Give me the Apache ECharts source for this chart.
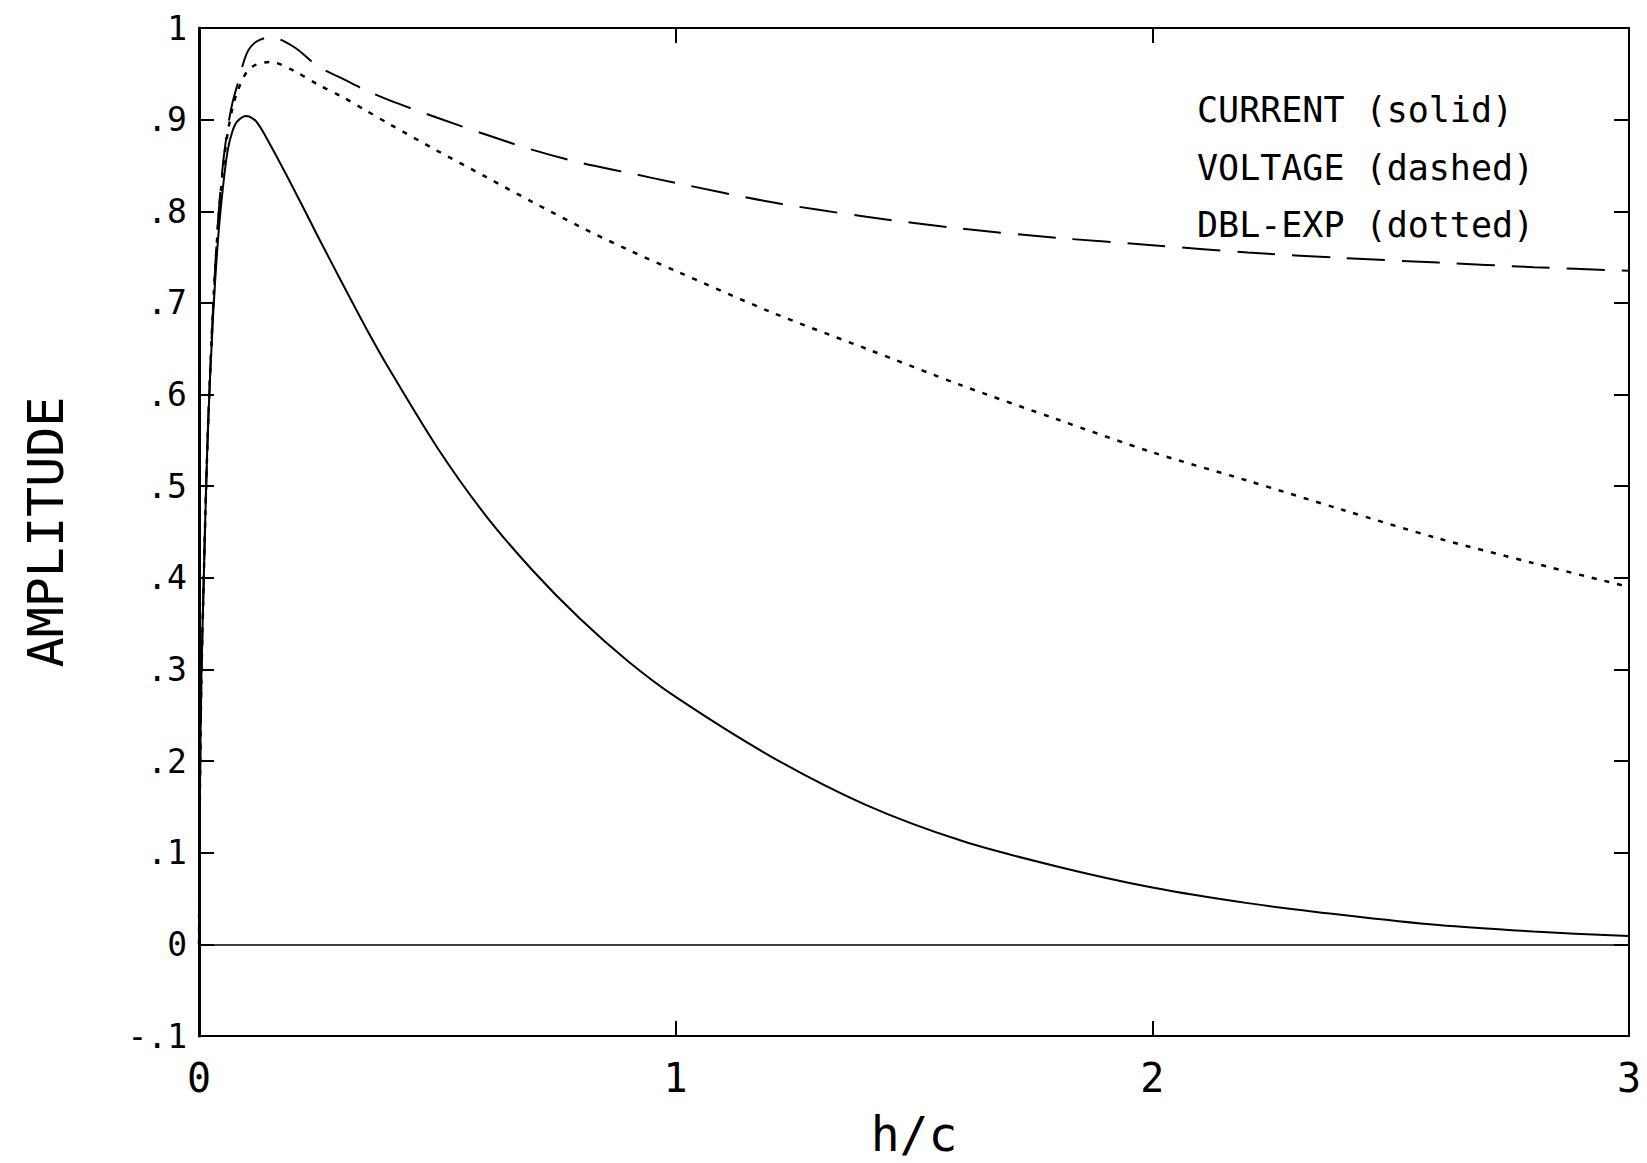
<!DOCTYPE html>
<html>
<head>
<meta charset="utf-8">
<script src="https://cdn.jsdelivr.net/npm/echarts@6/dist/echarts.min.js"></script>
<style>
  html, body { margin: 0; padding: 0; background: #fff; }
  #chart { width: 1647px; height: 1163px; }
</style>
</head>
<body>
<div id="chart"></div>
<script>
// ---- data ----
const xValues = [0, 0.002, 0.005, 0.01, 0.015, 0.02, 0.03, 0.04, 0.05, 0.06, 0.07, 0.08,
  0.1, 0.12, 0.15, 0.2, 0.25, 0.3, 0.35, 0.4, 0.5, 0.6, 0.7, 0.8,
  0.9, 1.0, 1.2, 1.4, 1.6, 1.8, 2.0, 2.2, 2.4, 2.6, 2.8, 3.0];

const currentValues = [0, 0.17, 0.29, 0.40, 0.50, 0.58, 0.69, 0.77, 0.825, 0.866, 0.887, 0.898,
  0.904, 0.898, 0.872, 0.823, 0.772, 0.722, 0.673, 0.627, 0.542, 0.469, 0.408, 0.355,
  0.309, 0.27, 0.205, 0.152, 0.113, 0.085, 0.062, 0.045, 0.032, 0.021, 0.014, 0.009];

const voltageValues = [0, 0.17, 0.29, 0.40, 0.50, 0.58, 0.70, 0.79, 0.85, 0.89, 0.918, 0.937,
  0.972, 0.985, 0.99, 0.979, 0.958, 0.945, 0.932, 0.921, 0.902, 0.884, 0.867, 0.853,
  0.842, 0.831, 0.81, 0.794, 0.781, 0.771, 0.763, 0.755, 0.749, 0.744, 0.739, 0.735];

const dblExpValues = [0, 0.17, 0.29, 0.40, 0.50, 0.58, 0.70, 0.785, 0.845, 0.885, 0.912, 0.93,
  0.952, 0.96, 0.963, 0.953, 0.938, 0.925, 0.91, 0.895, 0.866, 0.838, 0.81, 0.783,
  0.758, 0.735, 0.69, 0.65, 0.61, 0.573, 0.537, 0.506, 0.474, 0.443, 0.416, 0.39];

const seriesNames = ['CURRENT (solid)', 'VOLTAGE (dashed)', 'DBL-EXP (dotted)'];
const yTickLabels = ['-.1', '0', '.1', '.2', '.3', '.4', '.5', '.6', '.7', '.8', '.9', '1'];
const xTickLabels = ['0', '1', '2', '3'];

// ---- chart ----
const FONT = '"DejaVu Sans Mono", "Liberation Mono", monospace';
const pairs = vals => xValues.map((x, i) => [x, vals[i]]);

const chart = echarts.init(document.getElementById('chart'), null, { renderer: 'svg' });

const axisLineStyle = { color: '#000', width: 2 };

chart.setOption({
  animation: false,
  backgroundColor: '#fff',
  grid: { left: 199, right: 18, top: 28, bottom: 125 },
  legend: {
    data: seriesNames,
    orient: 'vertical',
    left: 1187,
    top: 87,
    icon: 'none',
    itemWidth: 0,
    itemHeight: 36,
    itemGap: 22,
    selectedMode: false,
    textStyle: { fontFamily: FONT, fontSize: 35, color: '#000' }
  },
  xAxis: [
    {
      type: 'value', min: 0, max: 3, interval: 1, position: 'bottom',
      axisLine: { show: true, onZero: false, lineStyle: axisLineStyle },
      axisTick: { show: true, inside: true, length: 15, lineStyle: axisLineStyle },
      splitLine: { show: false },
      axisLabel: {
        fontFamily: FONT, fontSize: 40, color: '#000', margin: 22,
        formatter: v => xTickLabels[Math.round(v)]
      },
      name: 'h/c', nameLocation: 'middle', nameGap: 74,
      nameTextStyle: { fontFamily: FONT, fontSize: 48, color: '#000' }
    },
    {
      type: 'value', min: 0, max: 3, interval: 1, position: 'top',
      axisLine: { show: true, onZero: false, lineStyle: axisLineStyle },
      axisTick: { show: true, inside: true, length: 15, lineStyle: axisLineStyle },
      splitLine: { show: false },
      axisLabel: { show: false }
    }
  ],
  yAxis: [
    {
      type: 'value', min: -0.1, max: 1, interval: 0.1, position: 'left',
      axisLine: { show: true, onZero: false, lineStyle: { color: '#000', width: 3 } },
      axisTick: { show: true, inside: true, length: 15, lineStyle: axisLineStyle },
      splitLine: { show: false },
      axisLabel: {
        fontFamily: FONT, fontSize: 33, color: '#000', margin: 12,
        formatter: v => yTickLabels[Math.round(v * 10) + 1]
      },
      name: 'AMPLITUDE', nameLocation: 'middle', nameGap: 128, nameRotate: 90,
      nameTextStyle: { fontFamily: FONT, fontSize: 50, color: '#000' }
    },
    {
      type: 'value', min: -0.1, max: 1, interval: 0.1, position: 'right',
      axisLine: { show: true, onZero: false, lineStyle: axisLineStyle },
      axisTick: { show: true, inside: true, length: 15, lineStyle: axisLineStyle },
      splitLine: { show: false },
      axisLabel: { show: false }
    }
  ],
  series: [
    {
      name: seriesNames[0], type: 'line', xAxisIndex: 0, yAxisIndex: 0,
      data: pairs(currentValues), showSymbol: false, smooth: 0.3, silent: true,
      lineStyle: { color: '#000', width: 2, type: 'solid' },
      itemStyle: { color: '#000' },
      markLine: {
        silent: true, symbol: ['none', 'none'], label: { show: false },
        lineStyle: { color: '#000', width: 1.5, type: 'solid' },
        data: [{ yAxis: 0 }]
      }
    },
    {
      name: seriesNames[1], type: 'line', xAxisIndex: 0, yAxisIndex: 0,
      data: pairs(voltageValues), showSymbol: false, smooth: 0.3, silent: true,
      lineStyle: { color: '#000', width: 2, type: [38, 17] },
      itemStyle: { color: '#000' }
    },
    {
      name: seriesNames[2], type: 'line', xAxisIndex: 0, yAxisIndex: 0,
      data: pairs(dblExpValues), showSymbol: false, smooth: 0.3, silent: true,
      lineStyle: { color: '#000', width: 2.5, type: [5, 8] },
      itemStyle: { color: '#000' }
    }
  ]
});
</script>
</body>
</html>
